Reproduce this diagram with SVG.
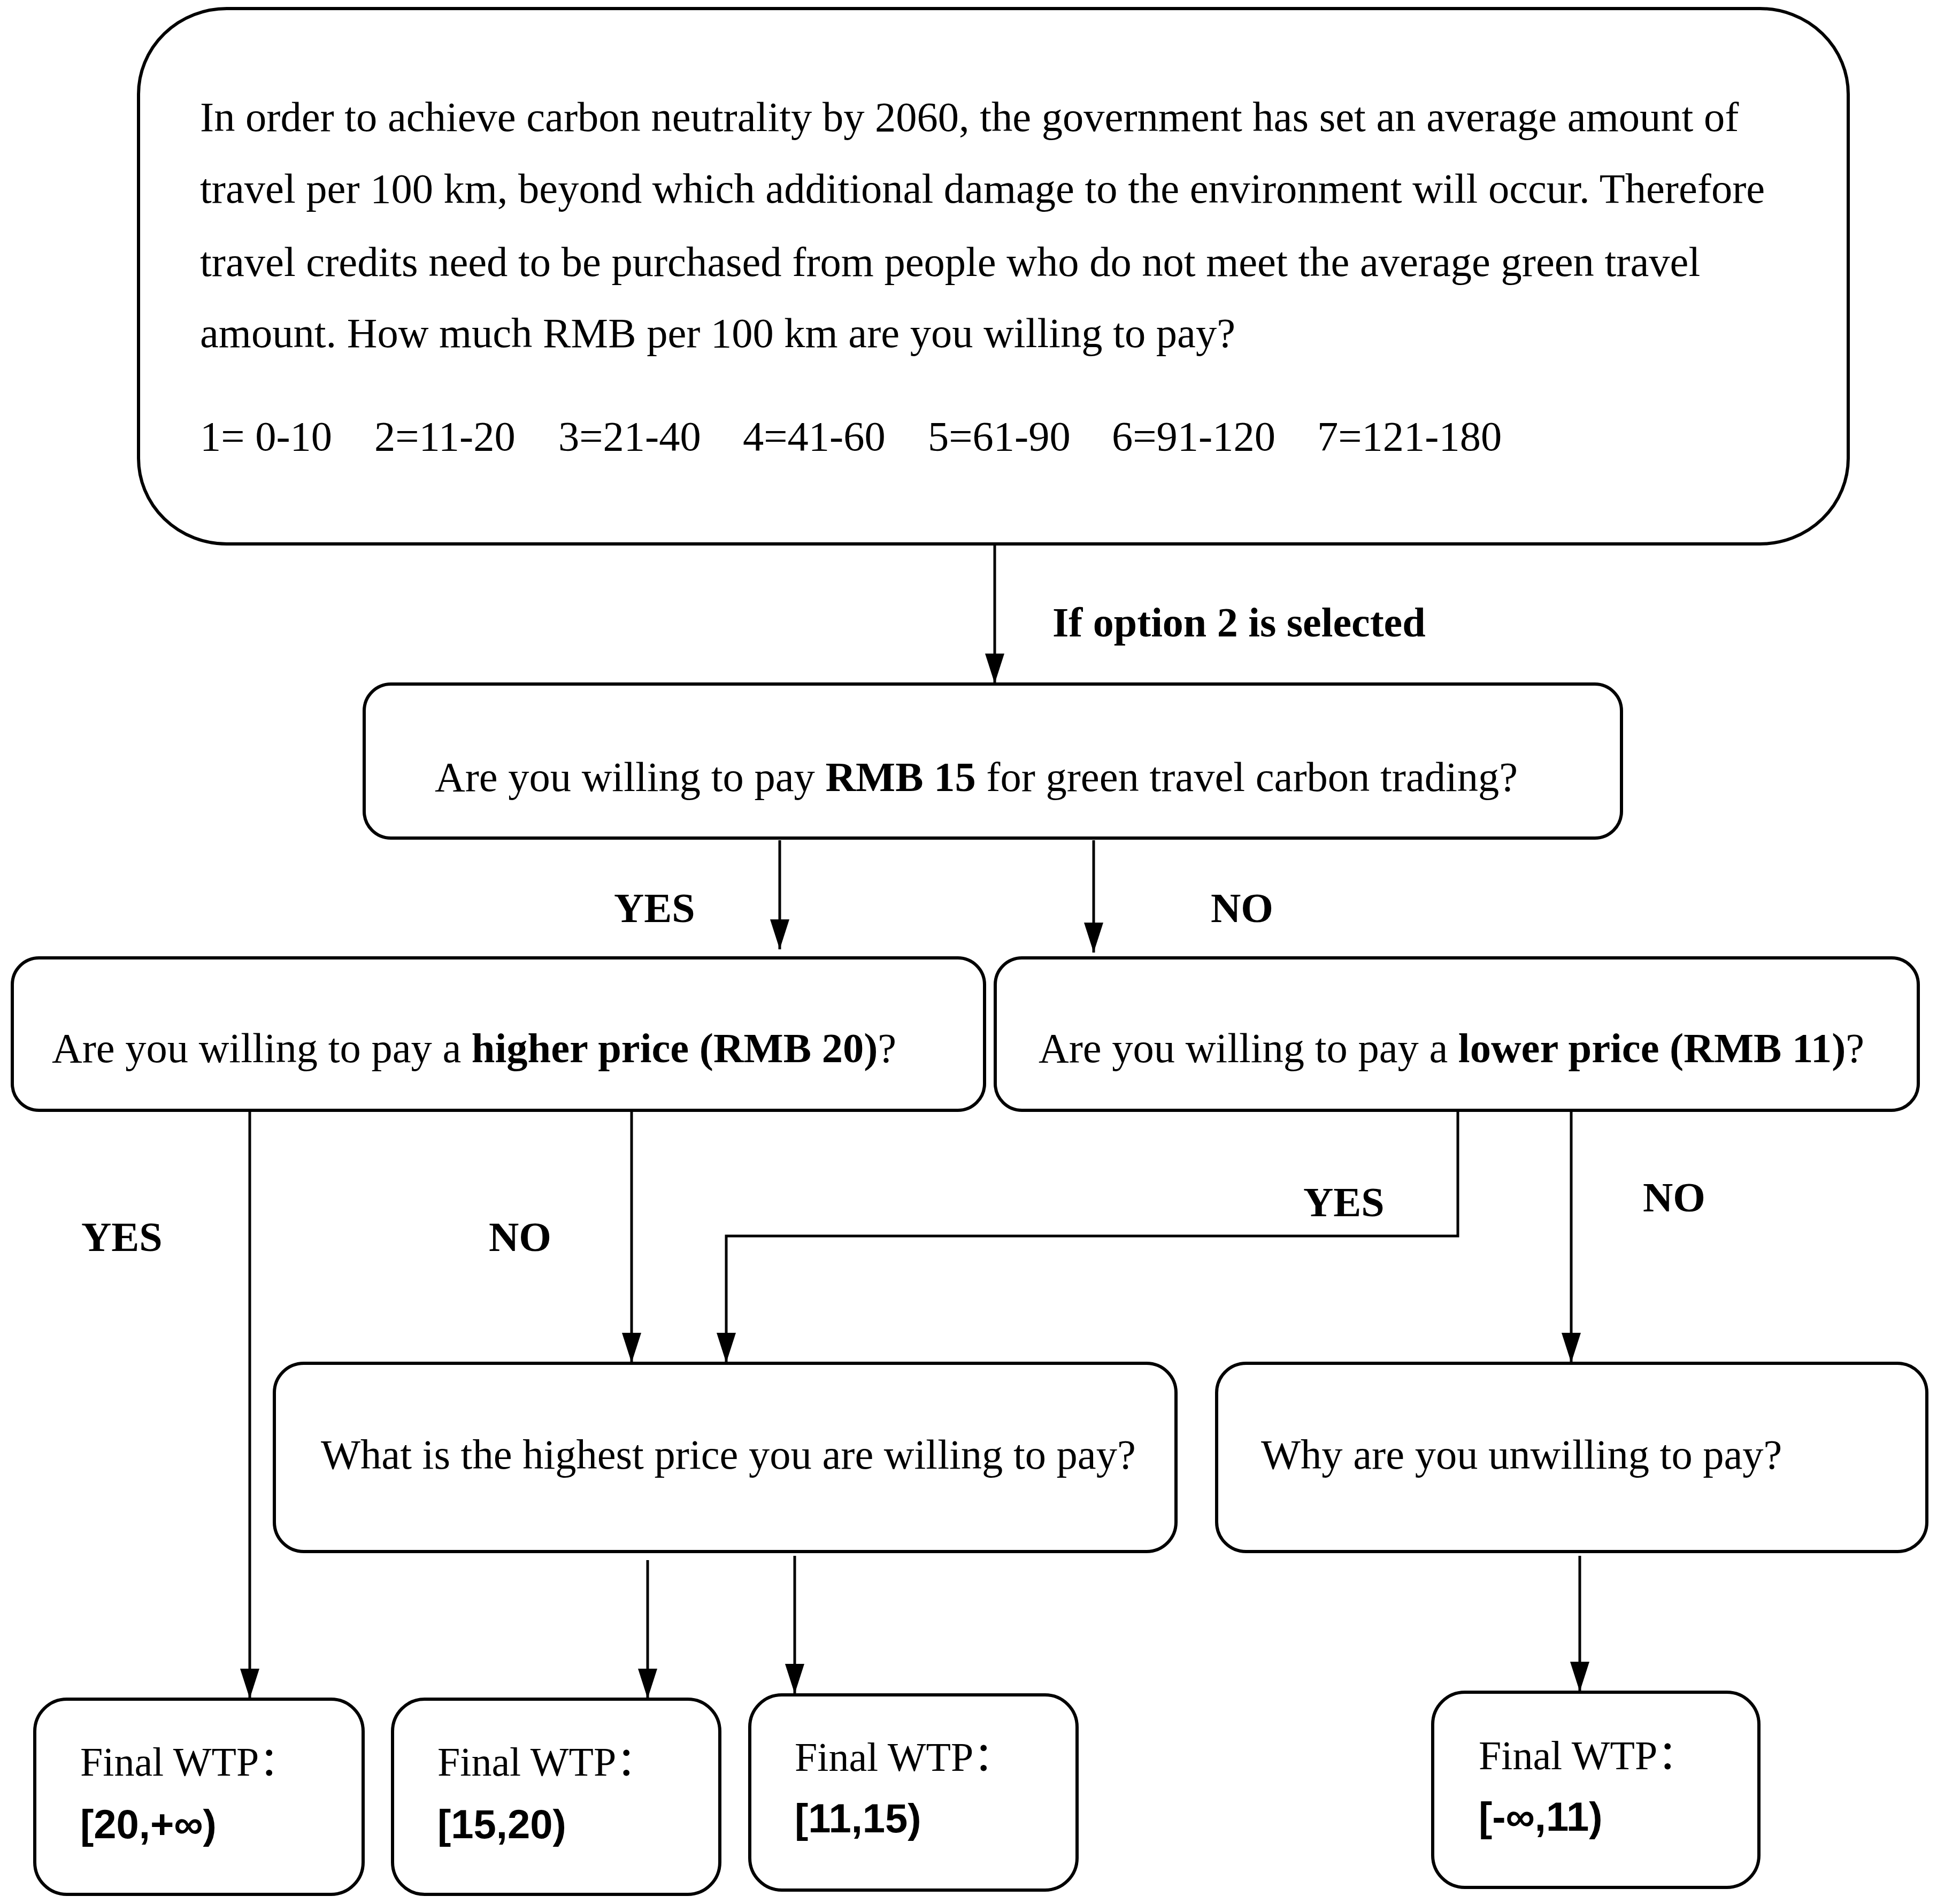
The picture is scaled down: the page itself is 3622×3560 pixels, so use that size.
<svg xmlns="http://www.w3.org/2000/svg" width="3622" height="3560" viewBox="0 0 3622 3560">
<style>
.box{fill:#fff;stroke:#000;stroke-width:6}
.t{font-family:"Liberation Serif","Times New Roman",serif;font-size:78.5px;fill:#000}
.b{font-weight:bold}
.lbl{font-family:"Liberation Serif","Times New Roman",serif;font-size:78px;font-weight:bold;fill:#000}
.wtp{font-family:"Liberation Serif","Noto Sans CJK SC",serif;font-size:76px;fill:#000}
.rng{font-family:"Liberation Sans",Arial,sans-serif;font-size:76px;font-weight:bold;fill:#000}
.c{fill:none;stroke:#000;stroke-width:5;marker-end:url(#arr)}
</style>
<defs>
<marker id="arr" markerUnits="userSpaceOnUse" markerWidth="56" markerHeight="36" refX="56" refY="18" orient="auto" viewBox="0 0 56 36">
<path d="M0,0 L56,18 L0,36 z" fill="#000"/>
</marker>
</defs>
<rect width="3622" height="3560" fill="#fff"/>

<g id="connectors">
<path class="c" d="M1860,1018 V1278"/>
<path class="c" d="M1458,1571 V1775"/>
<path class="c" d="M2045,1571 V1781"/>
<path class="c" d="M467,2078 V3176"/>
<path class="c" d="M1181,2078 V2548"/>
<path class="c" d="M2726,2078 V2311 H1358 V2548"/>
<path class="c" d="M2938,2078 V2548"/>
<path class="c" d="M1211,2917 V3176"/>
<path class="c" d="M1486,2909 V3167"/>
<path class="c" d="M2954,2909 V3163"/>
</g>

<g id="edge-labels">
<text class="lbl" x="1968" y="1190">If option 2 is selected</text>
<text class="lbl" x="1148" y="1724">YES</text>
<text class="lbl" x="2264" y="1724">NO</text>
<text class="lbl" x="152" y="2339">YES</text>
<text class="lbl" x="914" y="2339">NO</text>
<text class="lbl" x="2437" y="2274">YES</text>
<text class="lbl" x="3072" y="2265">NO</text>
</g>

<g id="node-intro">
<rect class="box" x="259" y="16" width="3197" height="1001" rx="165" ry="160"/>
<text class="t" x="374" y="245">In order to achieve carbon neutrality by 2060, the government has set an average amount of</text>
<text class="t" x="374" y="379">travel per 100 km, beyond which additional damage to the environment will occur. Therefore</text>
<text class="t" x="374" y="516">travel credits need to be purchased from people who do not meet the average green travel</text>
<text class="t" x="374" y="649">amount. How much RMB per 100 km are you willing to pay?</text>
<text class="t" y="842"><tspan x="374">1= 0-10</tspan><tspan x="700">2=11-20</tspan><tspan x="1044">3=21-40</tspan><tspan x="1389">4=41-60</tspan><tspan x="1735">5=61-90</tspan><tspan x="2079">6=91-120</tspan><tspan x="2463">7=121-180</tspan></text>
</g>

<g id="node-q15">
<rect class="box" x="681" y="1279" width="2351" height="288" rx="50"/>
<text class="t" x="813" y="1479">Are you willing to pay <tspan class="b">RMB 15</tspan> for green travel carbon trading?</text>
</g>

<g id="node-q20">
<rect class="box" x="23" y="1791" width="1818" height="285" rx="50"/>
<text class="t" x="97" y="1986">Are you willing to pay a <tspan class="b">higher price (RMB 20)</tspan>?</text>
</g>

<g id="node-q11">
<rect class="box" x="1861" y="1791" width="1726" height="285" rx="50"/>
<text class="t" x="1942" y="1986">Are you willing to pay a <tspan class="b">lower price (RMB 11)</tspan>?</text>
</g>

<g id="node-highest">
<rect class="box" x="513" y="2549" width="1686" height="352" rx="55"/>
<text class="t" x="600" y="2746">What is the highest price you are willing to pay?</text>
</g>

<g id="node-why">
<rect class="box" x="2275" y="2549" width="1328" height="352" rx="55"/>
<text class="t" x="2358" y="2746">Why are you unwilling to pay?</text>
</g>

<g id="node-wtp1">
<rect class="box" x="65" y="3177" width="614" height="365" rx="60"/>
<text class="wtp" x="150" y="3320">Final WTP：</text>
<text class="rng" x="150" y="3437">[20,+∞)</text>
</g>

<g id="node-wtp2">
<rect class="box" x="734" y="3177" width="612" height="365" rx="60"/>
<text class="wtp" x="818" y="3320">Final WTP：</text>
<text class="rng" x="818" y="3437">[15,20)</text>
</g>

<g id="node-wtp3">
<rect class="box" x="1402" y="3169" width="612" height="365" rx="60"/>
<text class="wtp" x="1486" y="3311">Final WTP：</text>
<text class="rng" x="1486" y="3426">[11,15)</text>
</g>

<g id="node-wtp4">
<rect class="box" x="2679" y="3164" width="610" height="365" rx="60"/>
<text class="wtp" x="2765" y="3308">Final WTP：</text>
<text class="rng" x="2765" y="3423">[-∞,11)</text>
</g>
</svg>
